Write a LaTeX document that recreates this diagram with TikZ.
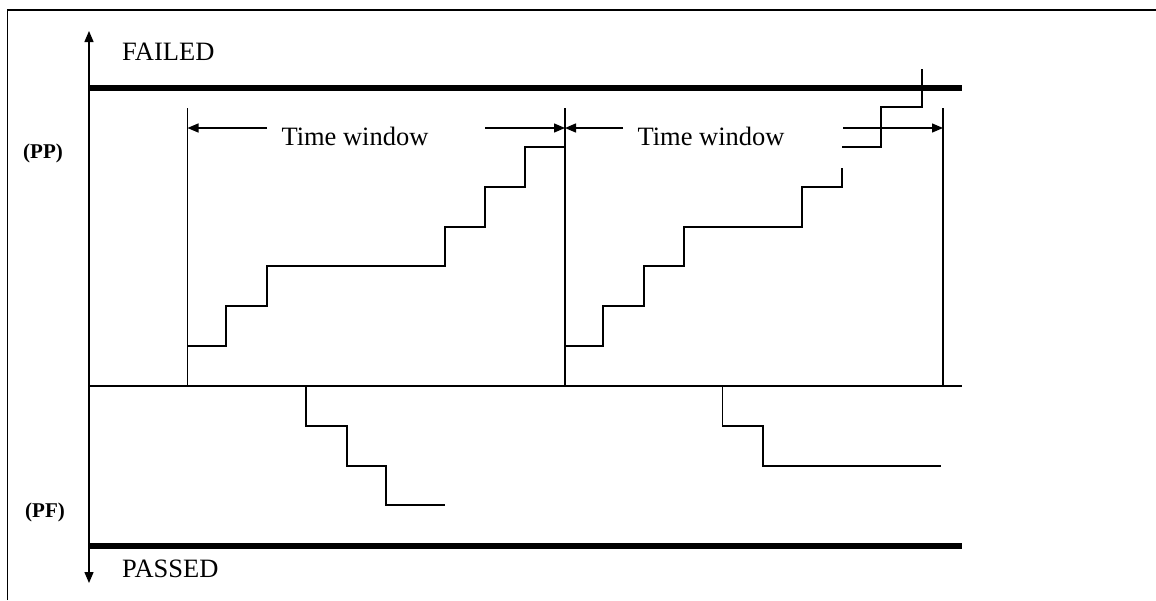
\documentclass[tikz,border=0pt]{standalone}
\usepackage{fontspec}
\setmainfont{Liberation Serif}
\usetikzlibrary{arrows.meta}
\begin{document}
\begin{tikzpicture}[x=1pt,y=-1pt]
  \tikzset{ lab/.style={font=\fontsize{26.5}{30}\selectfont,inner sep=0pt},
    side/.style={font=\bfseries\fontsize{21}{24}\selectfont,inner sep=0pt},
    trace/.style={line width=1.4pt},
    bound/.style={line width=6pt},
    arr/.style={-{Triangle[length=11pt,width=9pt]}},
  }
  \useasboundingbox (0,0) rectangle (1156,600);
  \draw[line width=1.6pt] (7.5,600) -- (7.5,10) -- (1156,10);

  \coordinate (o) at (89,386);
  \coordinate (oe) at (962,386);
  \coordinate (top) at (89,31);
  \coordinate (bot) at (89,583);
  \coordinate (f1) at (89,88);
  \coordinate (f2) at (962,88);
  \coordinate (p1) at (89,546);
  \coordinate (p2) at (962,546);
  \coordinate (w1) at (187.5,108);
  \coordinate (w2) at (565,108);
  \coordinate (w3) at (943,108);

  \node[lab,anchor=west] (fail) at (122,52) {FAILED};
  \node[lab,anchor=west] (pass) at (122,569) {PASSED};
  \node[side] (pp) at (43,153) {(PP)};
  \node[side] (pf) at (45,512) {(PF)};
  \node[lab] (t1) at (355,136) {Time window};
  \node[lab] (t2) at (711,136) {Time window};

  % axis and limits
  \draw[trace,arr] (o) -- (top);
  \draw[trace,arr] (o) -- (bot);
  \draw[trace] (o) -- (oe);
  \draw[bound] (f1) -- (f2);
  \draw[bound] (p1) -- (p2);

  % the time windows
  \draw[trace] (w1) -- (w1 |- o);
  \draw[trace] (w2) -- (w2 |- o);
  \draw[trace] (w3) -- (w3 |- o);
  \coordinate (a1) at (267,128);
  \coordinate (a2) at (485,128);
  \coordinate (a3) at (623,128);
  \coordinate (a4) at (843,128);
  \draw[trace,arr] (a1) -- (a1 -| w1);
  \draw[trace,arr] (a2) -- (a2 -| w2);
  \draw[trace,arr] (a3) -- (a3 -| w2);
  \draw[trace,arr] (a4) -- (a4 -| w3);

  % the steps
  \draw[trace] (187.5,346) -| (226,306) -| (267,266) -| (445,227) -| (485,187) -| (525,147) -- (565,147);
  \draw[trace] (565,346) -| (603,306) -| (644,266) -| (684,227) -| (802,187) -| (842,168);
  \draw[trace] (842,147) -| (881,107) -| (922,69);
  \draw[trace] (306,386) |- (347,426) |- (386,466) |- (445,505);
  \draw[trace] (722.5,386) |- (763,426) |- (941,466);
\end{tikzpicture}
\end{document}
